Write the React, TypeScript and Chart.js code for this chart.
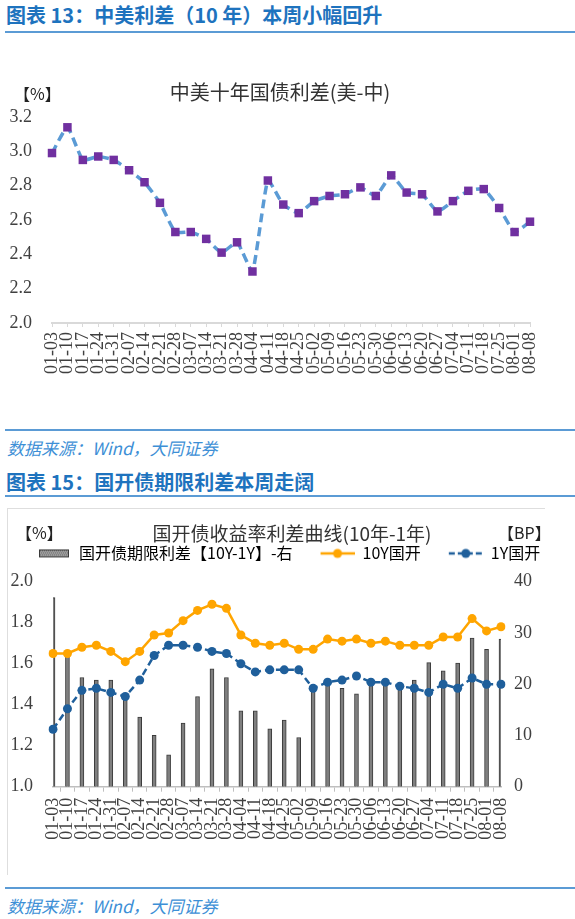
import React, { useEffect, useRef } from "react";
import { Chart, registerables } from "chart.js";

Chart.register(...registerables);

// 周度日期
const dates = [
  "01-03", "01-10", "01-17", "01-24", "01-31", "02-07", "02-14", "02-21",
  "02-28", "03-07", "03-14", "03-21", "03-28", "04-04", "04-11", "04-18",
  "04-25", "05-02", "05-09", "05-16", "05-23", "05-30", "06-06", "06-13",
  "06-20", "06-27", "07-04", "07-11", "07-18", "07-25", "08-01", "08-08",
];

// 中美十年国债利差 (%)
const usCnSpread = [
  2.99, 3.14, 2.95, 2.97, 2.95, 2.89, 2.82, 2.7, 2.53, 2.53, 2.49, 2.41,
  2.47, 2.3, 2.83, 2.69, 2.64, 2.71, 2.74, 2.75, 2.79, 2.74, 2.86, 2.76,
  2.75, 2.65, 2.71, 2.77, 2.78, 2.67, 2.53, 2.59,
];

// 国开债收益率 (%)
const cdb10Y = [
  1.65, 1.65, 1.68, 1.69, 1.66, 1.61, 1.66, 1.74, 1.75, 1.81, 1.86, 1.89,
  1.87, 1.74, 1.7, 1.69, 1.7, 1.67, 1.67, 1.72, 1.71, 1.72, 1.7, 1.71,
  1.69, 1.69, 1.69, 1.73, 1.73, 1.82, 1.76, 1.78,
];
const cdb1Y = [
  1.28, 1.38, 1.47, 1.48, 1.46, 1.44, 1.52, 1.64, 1.69, 1.69, 1.68, 1.66,
  1.65, 1.6, 1.56, 1.57, 1.57, 1.57, 1.48, 1.51, 1.52, 1.54, 1.51, 1.51,
  1.49, 1.48, 1.46, 1.5, 1.48, 1.53, 1.5, 1.5,
];

// 国开债期限利差 10Y-1Y (BP)
const termSpreadBP = [
  36.9, 26.0, 21.3, 20.8, 20.8, 17.2, 13.6, 10.0, 6.2, 12.4, 17.6, 23.0,
  21.3, 14.8, 14.8, 11.3, 13.0, 9.6, 18.6, 20.5, 19.2, 18.1, 21.0, 20.8,
  20.2, 20.8, 24.2, 22.6, 24.1, 29.0, 26.8, 28.8,
];

const chartTitle1 = "中美十年国债利差(美-中)";
const chartTitle2 = "国开债收益率利差曲线(10年-1年)";
const seriesNames2 = ["国开债期限利差【10Y-1Y】-右", "10Y国开", "1Y国开"];

const tickFont = { family: "'Liberation Serif', serif", size: 18 };
const cjkFont = "'Noto Sans CJK SC', sans-serif";
const tickColor = "#404040";

const BLUE_LINE = "#5b9bd5";
const PURPLE = "#7030a0";
const ORANGE = "#ffa500";
const NAVY = "#1f5f9b";
const BAR_FILL = "#7f7f7f";
const BAR_EDGE = "#3a3a3a";

// 图例小图标（线+点 / 柱）
const makeIcon = (kind: "bar" | "line" | "dash"): HTMLCanvasElement => {
  const c = document.createElement("canvas");
  c.width = 62;
  c.height = 14;
  const g = c.getContext("2d")!;
  const x0 = 28;
  if (kind === "bar") {
    g.fillStyle = "#9c9c9c";
    g.fillRect(x0 + 2, 3, 30, 8);
    g.fillStyle = "#6e6e6e";
    for (let yy = 4; yy < 11; yy += 2) {
      for (let xx = x0 + 3 + (yy % 4 === 0 ? 0 : 1); xx < x0 + 32; xx += 2) g.fillRect(xx, yy, 1, 1);
    }
    g.strokeStyle = BAR_EDGE;
    g.lineWidth = 1;
    g.strokeRect(x0 + 2.5, 3.5, 29, 7);
  } else {
    const col = kind === "line" ? ORANGE : NAVY;
    g.strokeStyle = col;
    g.lineWidth = 2.5;
    if (kind === "dash") g.setLineDash([6, 3]);
    g.beginPath();
    g.moveTo(x0, 7);
    g.lineTo(x0 + 34, 7);
    g.stroke();
    g.setLineDash([]);
    g.fillStyle = col;
    g.beginPath();
    g.arc(x0 + 17, 7, 4.5, 0, Math.PI * 2);
    g.fill();
  }
  return c;
};

const SpreadChart: React.FC = () => {
  const canvasRef = useRef<HTMLCanvasElement>(null);

  useEffect(() => {
    if (!canvasRef.current) return;
    const chart = new Chart(canvasRef.current, {
      type: "line",
      data: {
        labels: dates,
        datasets: [
          {
            label: chartTitle1,
            data: usCnSpread,
            borderColor: BLUE_LINE,
            borderWidth: 3.5,
            borderDash: [9, 5],
            pointStyle: "rect",
            pointRadius: 6,
            pointBackgroundColor: PURPLE,
            pointBorderColor: PURPLE,
            pointBorderWidth: 0,
            tension: 0.15,
          },
        ],
      },
      options: {
        responsive: false,
        maintainAspectRatio: false,
        animation: false,
        plugins: {
          legend: { display: false },
          tooltip: { enabled: false },
          title: {
            display: true,
            text: chartTitle1,
            color: "#333",
            font: { family: cjkFont, size: 20, weight: "normal", lineHeight: 1.2 },
            padding: { top: 40, bottom: 13 },
          },
        },
        scales: {
          x: {
            offset: false,
            grid: { display: true, drawOnChartArea: false, drawTicks: true, tickLength: 4, color: "#d9d9d9" },
            border: { display: true, color: "#d9d9d9", width: 2 },
            ticks: { autoSkip: false, minRotation: 90, maxRotation: 90, padding: 5, font: tickFont, color: tickColor },
            afterFit: (s) => { s.height = 77; },
          },
          y: {
            min: 2.0,
            max: 3.2,
            grid: { display: false, drawTicks: false },
            border: { display: false },
            ticks: { stepSize: 0.2, padding: 20, font: tickFont, color: tickColor, callback: (v) => Number(v).toFixed(1) },
            afterFit: (s) => { s.width = 52; },
          },
          yR: {
            position: "right",
            grid: { display: false, drawTicks: false },
            border: { display: false },
            ticks: { display: false },
            afterFit: (s) => { s.width = 30; },
          },
        },
      },
    });
    return () => chart.destroy();
  }, []);

  return <canvas ref={canvasRef} width={560} height={360} />;
};

const TermSpreadChart: React.FC = () => {
  const canvasRef = useRef<HTMLCanvasElement>(null);

  useEffect(() => {
    if (!canvasRef.current) return;
    const icons = [makeIcon("bar"), makeIcon("line"), makeIcon("dash")];
    const chart = new Chart(canvasRef.current, {
      type: "bar",
      data: {
        labels: dates,
        datasets: [
          {
            type: "bar",
            label: seriesNames2[0],
            data: termSpreadBP,
            yAxisID: "y1",
            backgroundColor: BAR_FILL,
            borderColor: BAR_EDGE,
            borderWidth: 1,
            barThickness: 4,
            order: 2,
          },
          {
            type: "line",
            label: seriesNames2[1],
            data: cdb10Y,
            yAxisID: "y",
            borderColor: ORANGE,
            borderWidth: 2.5,
            pointRadius: 4.5,
            pointBackgroundColor: ORANGE,
            pointBorderColor: ORANGE,
            pointBorderWidth: 0,
            order: 1,
          },
          {
            type: "line",
            label: seriesNames2[2],
            data: cdb1Y,
            yAxisID: "y",
            borderColor: NAVY,
            borderWidth: 2.5,
            borderDash: [7, 4],
            pointRadius: 4.5,
            pointBackgroundColor: NAVY,
            pointBorderColor: NAVY,
            pointBorderWidth: 0,
            order: 0,
          },
        ],
      },
      options: {
        responsive: false,
        maintainAspectRatio: false,
        animation: false,
        layout: { padding: { left: 9 } },
        plugins: {
          tooltip: { enabled: false },
          title: {
            display: true,
            text: chartTitle2,
            color: "#333",
            font: { family: cjkFont, size: 19, weight: "normal", lineHeight: 1.2 },
            padding: { top: 12.6, bottom: 0 },
          },
          legend: {
            display: true,
            align: "start",
            labels: {
              usePointStyle: true,
              pointStyleWidth: 62,
              padding: 0,
              color: tickColor,
              font: { family: cjkFont, size: 16 },
              generateLabels: (c) =>
                c.data.datasets.map((ds, i) => ({
                  text: ds.label as string,
                  pointStyle: icons[i],
                  fillStyle: "transparent",
                  strokeStyle: "transparent",
                  lineWidth: 0,
                  hidden: false,
                  datasetIndex: i,
                })),
            },
          },
          subtitle: {
            display: true,
            text: "",
            position: "top",
            font: { size: 1, lineHeight: 1 },
            padding: { top: 9.3, bottom: 0 },
          },
        },
        scales: {
          x: {
            offset: false,
            grid: { display: true, drawOnChartArea: false, drawTicks: true, tickLength: 5, color: "#bfbfbf" },
            border: { display: true, color: "#bfbfbf", width: 1.5 },
            ticks: { autoSkip: false, minRotation: 90, maxRotation: 90, padding: 6, font: tickFont, color: tickColor },
            afterFit: (s) => { s.height = 83.3; },
          },
          y: {
            position: "left",
            min: 1.0,
            max: 2.0,
            grid: { display: false, drawTicks: false },
            border: { display: false },
            ticks: { stepSize: 0.2, padding: 20, font: tickFont, color: tickColor, callback: (v) => Number(v).toFixed(1) },
            afterFit: (s) => { s.width = 44; },
          },
          y1: {
            position: "right",
            min: 0,
            max: 40,
            grid: { display: false, drawTicks: false },
            border: { display: false },
            ticks: { stepSize: 10, padding: 13, font: tickFont, color: tickColor },
            afterFit: (s) => { s.width = 74; },
          },
        },
      },
    });
    // 让小标题作为图例与绘图区之间的间隔
    if (chart.options.plugins?.subtitle) (chart.options.plugins.subtitle as any).weight = 500;
    chart.update();
    return () => chart.destroy();
  }, []);

  return <canvas ref={canvasRef} width={575} height={360} />;
};

const abs = (s: React.CSSProperties): React.CSSProperties => ({ position: "absolute", ...s });

const headStyle: React.CSSProperties = {
  fontFamily: cjkFont,
  fontWeight: "bold",
  fontSize: 20,
  lineHeight: "24px",
  color: "#1e73be",
  whiteSpace: "nowrap",
};
const sourceStyle: React.CSSProperties = {
  fontFamily: cjkFont,
  fontStyle: "italic",
  fontSize: 17,
  lineHeight: "22px",
  color: "#3d8fd6",
  whiteSpace: "nowrap",
};
const unitStyle: React.CSSProperties = {
  fontFamily: cjkFont,
  fontSize: 16,
  lineHeight: "20px",
  color: "#222",
  whiteSpace: "nowrap",
};
const rule = (top: number): React.CSSProperties =>
  abs({ left: 5, top, width: 570, height: 2, background: "#5b9bd5" });

const App: React.FC = () => (
  <div style={abs({ left: 0, top: 0, width: 575, height: 919, background: "#fff", overflow: "hidden" })}>
    <div style={abs({ left: 6, top: 3, ...headStyle })}>图表 13：中美利差（10 年）本周小幅回升</div>
    <div style={rule(31)} />
    <div style={abs({ left: 0, top: 40 })}>
      <SpreadChart />
    </div>
    <div style={abs({ left: 14, top: 83, ...unitStyle })}>【%】</div>
    <div style={rule(429)} />
    <div style={abs({ left: 7, top: 437, ...sourceStyle })}>数据来源：Wind，大同证券</div>
    <div style={abs({ left: 6, top: 470, ...headStyle })}>图表 15：国开债期限利差本周走阔</div>
    <div style={rule(495)} />
    <div
      style={abs({
        left: 7,
        top: 508,
        width: 537,
        height: 366,
        borderTop: "1px solid #dedede",
        borderLeft: "1px solid #dedede",
      })}
    />
    <div style={abs({ left: 0, top: 510 })}>
      <TermSpreadChart />
    </div>
    <div style={abs({ left: 16, top: 522, ...unitStyle })}>【%】</div>
    <div style={abs({ left: 498, top: 522, ...unitStyle })}>【BP】</div>
    <div style={rule(887)} />
    <div style={abs({ left: 7, top: 895, ...sourceStyle })}>数据来源：Wind，大同证券</div>
  </div>
);

export default App;
